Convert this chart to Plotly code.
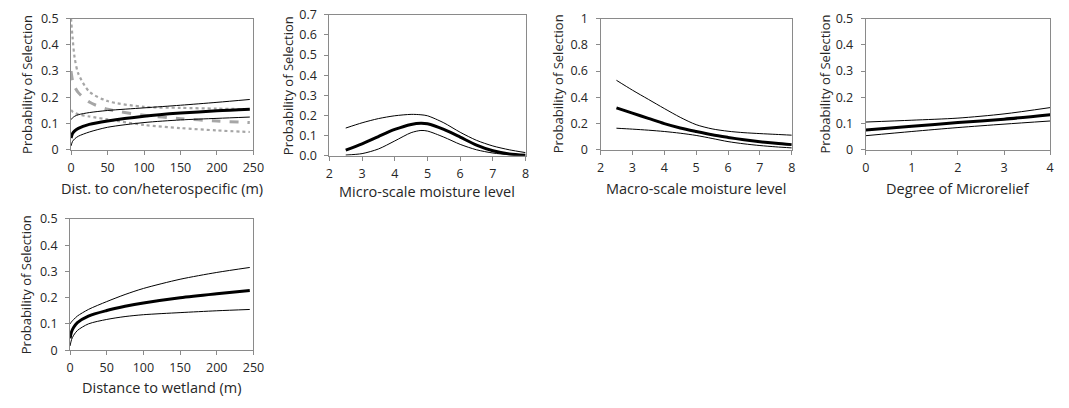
import plotly.graph_objects as go

W, H = 1069, 408

# ---------------- data ----------------
# Panel 1: distance to con/heterospecific (m)
p1_x = [0, 2, 5, 10, 25, 50, 100, 150, 200, 245]
p1_con_mean = [0.045, 0.062, 0.072, 0.082, 0.097, 0.110, 0.128, 0.140, 0.149, 0.155]
p1_con_hi = [0.115, 0.122, 0.128, 0.134, 0.142, 0.150, 0.160, 0.170, 0.181, 0.192]
p1_con_lo = [0.015, 0.032, 0.042, 0.052, 0.068, 0.086, 0.104, 0.114, 0.120, 0.125]
p1_het_mean = [0.300, 0.265, 0.240, 0.218, 0.182, 0.155, 0.132, 0.119, 0.110, 0.104]
p1_het_hi = [0.500, 0.430, 0.350, 0.290, 0.222, 0.186, 0.164, 0.160, 0.157, 0.155]
p1_het_lo = [0.152, 0.146, 0.141, 0.135, 0.127, 0.116, 0.095, 0.083, 0.074, 0.068]

# Panel 2: micro-scale moisture level
p2_x = [2.5, 3.0, 3.5, 4.0, 4.5, 4.8, 5.0, 5.5, 6.0, 6.5, 7.0, 7.5, 8.0]
p2_mean = [0.027, 0.058, 0.095, 0.130, 0.155, 0.161, 0.158, 0.130, 0.092, 0.052, 0.024, 0.008, 0.002]
p2_hi = [0.137, 0.163, 0.184, 0.198, 0.205, 0.203, 0.198, 0.163, 0.116, 0.076, 0.048, 0.029, 0.015]
p2_lo = [0.003, 0.010, 0.033, 0.073, 0.114, 0.125, 0.122, 0.092, 0.056, 0.029, 0.013, 0.005, 0.002]

# Panel 3: macro-scale moisture level
p3_x = [2.5, 3.0, 3.5, 4.0, 4.5, 5.0, 5.5, 6.0, 6.5, 7.0, 7.5, 8.0]
p3_mean = [0.320, 0.280, 0.240, 0.200, 0.167, 0.140, 0.115, 0.095, 0.077, 0.062, 0.050, 0.040]
p3_hi = [0.530, 0.455, 0.385, 0.315, 0.248, 0.192, 0.160, 0.142, 0.131, 0.124, 0.118, 0.112]
p3_lo = [0.165, 0.158, 0.150, 0.140, 0.127, 0.110, 0.087, 0.063, 0.046, 0.033, 0.023, 0.015]

# Panel 4: degree of microrelief
p4_x = [0, 1, 2, 3, 4]
p4_mean = [0.076, 0.090, 0.104, 0.117, 0.134]
p4_hi = [0.106, 0.113, 0.121, 0.137, 0.161]
p4_lo = [0.054, 0.070, 0.085, 0.098, 0.110]

# Panel 5: distance to wetland (m)
p5_x = [0, 2, 5, 10, 25, 50, 75, 100, 150, 200, 245]
p5_mean = [0.045, 0.070, 0.087, 0.105, 0.130, 0.151, 0.167, 0.180, 0.200, 0.215, 0.227]
p5_hi = [0.100, 0.108, 0.117, 0.130, 0.155, 0.185, 0.212, 0.235, 0.270, 0.296, 0.315]
p5_lo = [0.016, 0.040, 0.057, 0.075, 0.100, 0.117, 0.128, 0.135, 0.143, 0.150, 0.155]

# tick labels
t1_x = [0, 50, 100, 150, 200, 250]
t1_y = [0, 0.1, 0.2, 0.3, 0.4, 0.5]
t1_y_txt = ["0", "0.1", "0.2", "0.3", "0.4", "0.5"]
t2_x = [2, 3, 4, 5, 6, 7, 8]
t2_y = [0, 0.1, 0.2, 0.3, 0.4, 0.5, 0.6, 0.7]
t2_y_txt = ["0.0", "0.1", "0.2", "0.3", "0.4", "0.5", "0.6", "0.7"]
t3_y = [0, 0.2, 0.4, 0.6, 0.8, 1.0]
t3_y_txt = ["0", "0.2", "0.4", "0.6", "0.8", "1"]
t4_x = [0, 1, 2, 3, 4]

x_titles = ["Dist. to con/heterospecific (m)", "Micro-scale moisture level",
            "Macro-scale moisture level", "Degree of Microrelief", "Distance to wetland (m)"]
y_title = "Probability of Selection"

# ---------------- layout geometry (pixels) ----------------
# (left, right, top, bottom)
boxes = [(68, 253, 10, 147), (330, 529, 6, 153), (605, 799, 10, 147),
         (874, 1061, 10, 147), (67, 253, 219, 356)]
xtitle_y = [187, 190, 187, 187, 395]
ytitle_x = [24, 288, 562, 833, 22]

FONT = "Open Sans"
TXT = "#262626"
AX = "#8a8a8a"

fig = go.Figure()

def add(panel, x, y, color, width, dash="solid"):
    fig.add_trace(go.Scatter(
        x=x, y=y, mode="lines",
        line=dict(color=color, width=width, dash=dash, shape="spline", smoothing=0.8),
        xaxis="x" if panel == 1 else f"x{panel}",
        yaxis="y" if panel == 1 else f"y{panel}",
        showlegend=False, hoverinfo="skip"))

add(1, p1_x, p1_het_hi, "#a6a6a6", 2.2, "dot")
add(1, p1_x, p1_het_lo, "#a6a6a6", 2.2, "dot")
add(1, p1_x, p1_het_mean, "#a6a6a6", 3, "dash")
add(1, p1_x, p1_con_hi, "#000000", 1)
add(1, p1_x, p1_con_lo, "#000000", 1)
add(1, p1_x, p1_con_mean, "#000000", 3)

for p, xs, m, hi, lo in [(2, p2_x, p2_mean, p2_hi, p2_lo),
                         (3, p3_x, p3_mean, p3_hi, p3_lo),
                         (4, p4_x, p4_mean, p4_hi, p4_lo),
                         (5, p5_x, p5_mean, p5_hi, p5_lo)]:
    add(p, xs, hi, "#000000", 1)
    add(p, xs, lo, "#000000", 1)
    add(p, xs, m, "#000000", 3)

xr = [[0, 250], [2, 8], [2, 8], [0, 4], [0, 250]]
yr = [[0, 0.5], [0, 0.7], [0, 1], [0, 0.5], [0, 0.5]]
xt = [t1_x, t2_x, t2_x, t4_x, t1_x]
yt = [(t1_y, t1_y_txt), (t2_y, t2_y_txt), (t3_y, t3_y_txt), (t1_y, t1_y_txt), (t1_y, t1_y_txt)]

common = dict(showline=True, mirror=True, linecolor=AX, linewidth=1, showgrid=False,
              zeroline=False, ticks="outside", ticklen=4, tickcolor=AX,
              tickfont=dict(family=FONT, size=12.5, color=TXT), fixedrange=True)

annotations = []
for i, (l, r, t, b) in enumerate(boxes):
    k = "" if i == 0 else str(i + 1)
    fig.layout[f"xaxis{k}"] = dict(
        common, domain=[l / W, r / W], range=xr[i], anchor=f"y{k}",
        tickmode="array", tickvals=xt[i], ticktext=[str(v) for v in xt[i]],
        ticklabelstandoff=2)
    fig.layout[f"yaxis{k}"] = dict(
        common, domain=[1 - b / H, 1 - t / H], range=yr[i], anchor=f"x{k}",
        tickmode="array", tickvals=yt[i][0], ticktext=yt[i][1],
        ticklabelstandoff=5)
    annotations.append(dict(
        text=x_titles[i], x=(l + r) / 2 / W, y=1 - xtitle_y[i] / H,
        xref="paper", yref="paper", xanchor="center", yanchor="middle",
        showarrow=False, font=dict(family=FONT, size=14.5, color=TXT)))
    annotations.append(dict(
        text=y_title, x=ytitle_x[i] / W, y=1 - (t + b) / 2 / H,
        xref="paper", yref="paper", xanchor="center", yanchor="middle",
        textangle=-90, showarrow=False, font=dict(family=FONT, size=13, color=TXT)))

fig.update_layout(width=W, height=H, margin=dict(l=0, r=0, t=0, b=0),
                  paper_bgcolor="white", plot_bgcolor="white",
                  annotations=annotations)

fig.write_html("out.html", config={"displayModeBar": False},
               post_script="document.body.style.margin='0';document.body.style.overflow='hidden';")
